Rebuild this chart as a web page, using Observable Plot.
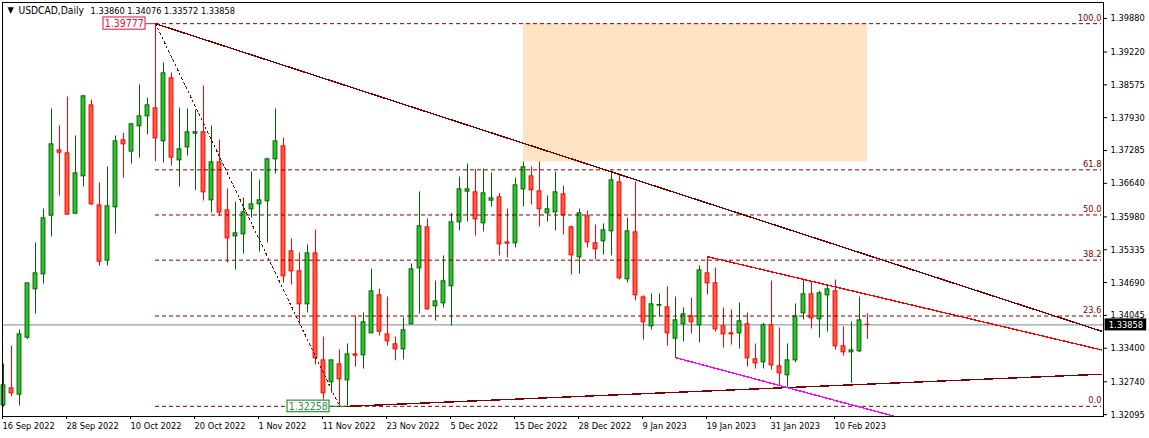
<!DOCTYPE html>
<html><head><meta charset="utf-8">
<script src="https://cdn.jsdelivr.net/npm/d3@7"></script>
<script src="https://cdn.jsdelivr.net/npm/@observablehq/plot@0.6"></script>
<style>html,body{margin:0;padding:0;background:#fff;overflow:hidden}svg{display:block}</style>
</head><body><div id="chart"></div>
<script>
const high=[1.33089,1.33443,1.33757,1.34674,1.35467,1.36135,1.38100,1.37766,1.38336,1.37570,
1.38369,1.38277,1.36646,1.36960,1.37570,1.37622,1.37818,1.38572,1.38316,1.39777,
1.39004,1.38808,1.38120,1.38100,1.38080,1.38552,1.37766,1.37491,1.36528,1.36273,
1.36351,1.36862,1.36705,1.37131,1.38100,1.37530,1.35546,1.35271,1.35428,1.35722,
1.33620,1.33161,1.33364,1.33482,1.34033,1.34092,1.34950,1.34563,1.34406,1.33620,
1.33993,1.35054,1.36469,1.35939,1.34720,1.35212,1.36050,1.36764,1.37019,1.36915,
1.36921,1.36843,1.36443,1.36135,1.36744,1.37059,1.36960,1.37059,1.36391,1.36862,
1.36587,1.35801,1.36135,1.36096,1.35821,1.35840,1.36882,1.36823,1.35958,1.36666,
1.34432,1.34465,1.34465,1.34602,1.34406,1.34190,1.34386,1.35015,1.35198,1.34976,
1.34190,1.34150,1.34288,1.34092,1.33482,1.33888,1.34720,1.33797,1.33482,1.34268,
1.34740,1.34701,1.34517,1.34642,1.34740,1.33816,1.33915,1.34406,1.34076];
const low=[1.32238,1.32447,1.32264,1.33574,1.34072,1.34661,1.35585,1.36391,1.36024,1.36024,
1.36567,1.36201,1.35015,1.35015,1.35644,1.36744,1.37019,1.37137,1.37589,1.37065,
1.37039,1.36980,1.36567,1.37177,1.36502,1.36292,1.36057,1.35998,1.35074,1.34936,
1.35251,1.35958,1.35290,1.35467,1.36823,1.34681,1.34642,1.33856,1.34092,1.33070,
1.32382,1.32513,1.32258,1.32258,1.33030,1.32991,1.33692,1.33640,1.33443,1.33155,
1.33168,1.33869,1.34072,1.34144,1.33934,1.34190,1.33836,1.35703,1.35880,1.35605,
1.35683,1.36174,1.35212,1.35172,1.35369,1.36174,1.36214,1.35781,1.35880,1.35703,
1.35624,1.34838,1.34858,1.35369,1.35133,1.35231,1.35212,1.34740,1.34681,1.34327,
1.33561,1.33757,1.34013,1.33443,1.33214,1.33522,1.33679,1.33502,1.34445,1.33718,
1.33404,1.33463,1.33384,1.33030,1.32991,1.32991,1.32971,1.32657,1.32631,1.33116,
1.33954,1.33777,1.33600,1.33718,1.33364,1.33247,1.32709,1.33312,1.33572];
const open=[1.32277,1.32611,1.32487,1.33607,1.34557,1.34851,1.36004,1.37288,1.37229,1.36043,
1.36777,1.38172,1.36207,1.35120,1.36168,1.37484,1.37262,1.37760,1.37956,1.38113,
1.37465,1.38703,1.37091,1.37347,1.37615,1.37642,1.36305,1.37052,1.36109,1.35598,
1.35637,1.36129,1.36227,1.36286,1.37111,1.37367,1.35303,1.34910,1.34262,1.35264,
1.33161,1.32729,1.33083,1.32768,1.33279,1.33260,1.33692,1.34439,1.33672,1.33476,
1.33378,1.33869,1.34969,1.35775,1.34223,1.34281,1.34616,1.35873,1.36476,1.36463,
1.35853,1.36299,1.36364,1.35480,1.35460,1.36522,1.36777,1.36482,1.36050,1.36070,
1.36423,1.35775,1.35185,1.35991,1.35460,1.35500,1.35696,1.36659,1.34753,1.35677,
1.34399,1.33830,1.34236,1.34203,1.33587,1.33869,1.34026,1.33849,1.34871,1.34674,
1.33830,1.33692,1.33692,1.33869,1.33181,1.33122,1.33849,1.33044,1.32867,1.33161,
1.34085,1.34458,1.33967,1.34439,1.34517,1.33437,1.33319,1.33338,1.33860];
const close=[1.32670,1.32513,1.33672,1.34674,1.34871,1.35952,1.37406,1.37242,1.36024,1.36836,
1.38349,1.36227,1.35100,1.36188,1.37465,1.37406,1.37799,1.37956,1.38172,1.37524,
1.38801,1.37144,1.37308,1.37642,1.37642,1.36463,1.37052,1.36063,1.35559,1.35657,
1.36070,1.36227,1.36305,1.37111,1.37465,1.34812,1.34910,1.34262,1.35264,1.33201,
1.32513,1.33161,1.32788,1.33279,1.33253,1.33908,1.34517,1.33725,1.33535,1.33378,
1.33751,1.34950,1.35795,1.34164,1.34321,1.34714,1.35873,1.36522,1.36522,1.35932,
1.36443,1.36345,1.35441,1.35454,1.36600,1.36954,1.36502,1.36129,1.36129,1.36463,
1.36011,1.35225,1.36050,1.35480,1.35343,1.35716,1.36698,1.34773,1.35696,1.34439,
1.33908,1.34262,1.34249,1.33692,1.33947,1.34065,1.33908,1.34930,1.34674,1.33771,
1.33672,1.33672,1.33928,1.33201,1.33102,1.33849,1.33063,1.32906,1.33161,1.34026,
1.34458,1.33987,1.34478,1.34557,1.33437,1.33319,1.33358,1.33947,1.33858];

const xTickIndex=[0,8,16,24,32,40,48,56,64,72,80,88,96,104];
const xTickLabels=["16 Sep 2022","28 Sep 2022","10 Oct 2022","20 Oct 2022","1 Nov 2022","11 Nov 2022","23 Nov 2022","5 Dec 2022","15 Dec 2022","28 Dec 2022","9 Jan 2023","19 Jan 2023","31 Jan 2023","10 Feb 2023"];
const yTicks=[1.39880,1.39220,1.38575,1.37930,1.37285,1.36640,1.35980,1.35335,1.34690,1.34045,1.33400,1.32740,1.32095];

const fibValues=[1.39777,1.36905,1.36018,1.35130,1.34032,1.32258];
const fibNames=["100.0","61.8","50.0","38.2","23.6","0.0"];
const lastPrice=1.33858;
const xEnd=137.5, fibEnd=137.25;

const zone={x1:65,x2:108,y1:1.39777,y2:1.37060};
const diagonal=[{i:19,p:1.39777},{i:42,p:1.32258}];
const bigDown=[{i:19,p:1.39777},{i:fibEnd,p:1.33734}];
const lowUp=[{i:43,p:1.32258},{i:fibEnd,p:1.32889}];
const redDown=[{i:88,p:1.35199},{i:fibEnd,p:1.33366}];
const magentaDown=[{i:84,p:1.33215},{i:111.5,p:1.32056}];

const hiBox={x1:12.5,x2:17.75,y1:1.39899,y2:1.39659,mid:15.1,t:"1.39777"};
const loBox={x1:35.5,x2:40.75,y1:1.32370,y2:1.32142,mid:38.1,t:"1.32258"};
const bidBox={x1:137.7,x2:142.9,y1:1.33976,y2:1.33740,mid:140.3,t:"1.33858"};
const headerName="USDCAD,Daily";
const headerOHLC="1.33860\u00a01.34076\u00a01.33572\u00a01.33858";

const FONT='"DejaVu Sans Condensed","DejaVu Sans",sans-serif';
const MAROON="#800000", GREEN_BODY="#2cc42c", RED_BODY="#ff5a3c", GREEN_LINE="#006400", RED_LINE="#ff0000";
const candles=high.map((h,i)=>({i,high:h,low:low[i],open:open[i],close:close[i],up:close[i]>=open[i]}));
const w=0.24;
const line=(d,stroke,sw=1,extra={})=>Plot.line(d,{x:"i",y:"p",stroke,strokeWidth:sw,shapeRendering:"crispEdges",...extra});

const chart=Plot.plot({
  width:1149,height:438,marginLeft:2,marginRight:46,marginTop:2,marginBottom:22,
  style:{background:"#fff",fontFamily:FONT,fontSize:"9.2px",color:"#000"},
  x:{type:"linear",domain:[-0.125,xEnd],range:[2,1103]},
  y:{type:"linear",domain:[1.32058,1.40193],range:[416,2]},
  marks:[
    Plot.rect([zone],{x1:"x1",x2:"x2",y1:"y1",y2:"y2",fill:"#ffe4c4"}),
    Plot.ruleY([lastPrice],{stroke:"#778899",strokeWidth:1}),
    Plot.ruleX(candles,{x:"i",y1:"low",y2:"high",stroke:d=>d.up?GREEN_LINE:RED_LINE,strokeWidth:1}),
    Plot.rect(candles,{x1:d=>d.i-w,x2:d=>d.i+w,y1:"open",y2:"close",fill:d=>d.up?GREEN_BODY:RED_BODY,stroke:d=>d.up?GREEN_LINE:RED_LINE,strokeWidth:1}),
    Plot.ruleY(fibValues,{x1:19,x2:fibEnd,stroke:MAROON,strokeWidth:1,strokeDasharray:"4,3"}),
    line(diagonal,MAROON,1,{strokeDasharray:"2,3"}),
    line(bigDown,MAROON,1.4),
    line(lowUp,MAROON,1.4),
    line(redDown,RED_LINE,1.4),
    line(magentaDown,"#ff00ff",1.4),
    Plot.text(fibValues,{x:fibEnd,y:d=>d,text:(d,i)=>fibNames[i],textAnchor:"end",dy:-6,fill:MAROON}),
    Plot.link([{a:hiBox.x2,b:19,p:1.39777}],{x1:"a",x2:"b",y1:"p",y2:"p",stroke:"#dc143c"}),
    Plot.link([{a:loBox.x2,b:43,p:1.32258}],{x1:"a",x2:"b",y1:"p",y2:"p",stroke:"#008000"}),
    Plot.rect([hiBox],{x1:"x1",x2:"x2",y1:"y1",y2:"y2",fill:"#fff",stroke:"#dc143c",strokeWidth:1}),
    Plot.text([hiBox],{x:"mid",y:1.39777,text:"t",fill:"#dc143c",fontSize:10.5}),
    Plot.rect([loBox],{x1:"x1",x2:"x2",y1:"y1",y2:"y2",fill:"#fff",stroke:"#008000",strokeWidth:1}),
    Plot.text([loBox],{x:"mid",y:1.32258,text:"t",fill:"#2e8b57",fontSize:10.5}),
    Plot.frame({stroke:"#000",strokeWidth:1}),
    Plot.axisY(yTicks,{anchor:"right",tickSize:3,tickPadding:4,label:null,tickFormat:d=>d.toFixed(5),stroke:"#000",fill:"#000"}),
    Plot.axisX(xTickIndex,{anchor:"bottom",tickSize:3,tickPadding:3,label:null,tickFormat:d=>xTickLabels[xTickIndex.indexOf(d)],textAnchor:"start",dx:-1,stroke:"#000",fill:"#000"}),
    Plot.rect([bidBox],{x1:"x1",x2:"x2",y1:"y1",y2:"y2",fill:"#000"}),
    Plot.text([bidBox],{x:"mid",y:lastPrice,text:"t",fill:"#fff"}),
    Plot.text([headerName],{frameAnchor:"top-left",lineAnchor:"middle",dx:16,dy:8.5,textAnchor:"start",fill:"#000",fontSize:10.2}),
    Plot.text([headerOHLC],{frameAnchor:"top-left",lineAnchor:"middle",dx:88,dy:8.5,textAnchor:"start",fill:"#000"}),
    Plot.text(["\u25bc"],{frameAnchor:"top-left",lineAnchor:"middle",dx:5,dy:8,textAnchor:"start",fill:"#000",fontSize:9})
  ]
});
document.getElementById("chart").appendChild(chart);
</script></body></html>
